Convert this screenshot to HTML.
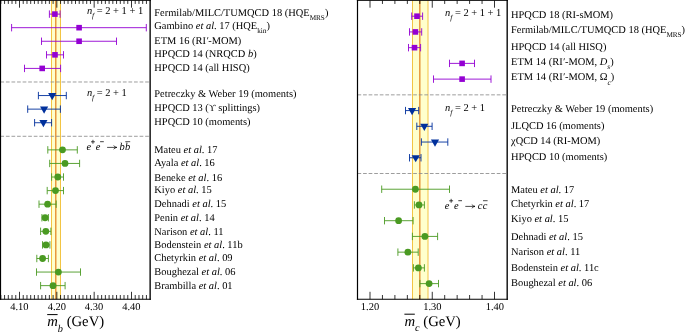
<!DOCTYPE html>
<html><head><meta charset="utf-8"><title>Quark masses</title>
<style>
html,body{margin:0;padding:0;background:#fff;}
svg{display:block;font-family:"Liberation Serif",serif;text-rendering:geometricPrecision;will-change:transform;}
text{fill:#000;}
</style></head><body>
<svg width="685" height="334" viewBox="0 0 685 334">
<rect width="685" height="334" fill="#fff"/>
<rect x="51.5" y="0.45" width="9.00" height="298.8" fill="#ffffcc"/>
<path d="M51.5 0.45V299.25M60.5 0.45V299.25" stroke="#f2c443" stroke-width="1"/>
<path d="M55.75 0.45V299.25" stroke="#e8983f" stroke-width="1.5"/>
<path d="M0.35 81.985H150.15" stroke="#8c8c8c" stroke-width="1" stroke-dasharray="3.7 1.87" stroke-opacity="0.85"/>
<path d="M0.35 136.293H150.15" stroke="#8c8c8c" stroke-width="1" stroke-dasharray="3.7 1.87" stroke-opacity="0.85"/>
<path d="M19.50 0.45V7.7M19.50 299.25V291.8M56.83 0.45V7.7M56.83 299.25V291.8M94.17 0.45V7.7M94.17 299.25V291.8M131.50 0.45V7.7M131.50 299.25V291.8M0.83 0.45V3.95M0.83 299.25V295.0M4.57 0.45V3.95M4.57 299.25V295.0M8.30 0.45V3.95M8.30 299.25V295.0M12.03 0.45V3.95M12.03 299.25V295.0M15.77 0.45V3.95M15.77 299.25V295.0M23.23 0.45V3.95M23.23 299.25V295.0M26.97 0.45V3.95M26.97 299.25V295.0M30.70 0.45V3.95M30.70 299.25V295.0M34.43 0.45V3.95M34.43 299.25V295.0M38.17 0.45V3.95M38.17 299.25V295.0M41.90 0.45V3.95M41.90 299.25V295.0M45.63 0.45V3.95M45.63 299.25V295.0M49.37 0.45V3.95M49.37 299.25V295.0M53.10 0.45V3.95M53.10 299.25V295.0M60.57 0.45V3.95M60.57 299.25V295.0M64.30 0.45V3.95M64.30 299.25V295.0M68.03 0.45V3.95M68.03 299.25V295.0M71.77 0.45V3.95M71.77 299.25V295.0M75.50 0.45V3.95M75.50 299.25V295.0M79.23 0.45V3.95M79.23 299.25V295.0M82.97 0.45V3.95M82.97 299.25V295.0M86.70 0.45V3.95M86.70 299.25V295.0M90.43 0.45V3.95M90.43 299.25V295.0M97.90 0.45V3.95M97.90 299.25V295.0M101.63 0.45V3.95M101.63 299.25V295.0M105.37 0.45V3.95M105.37 299.25V295.0M109.10 0.45V3.95M109.10 299.25V295.0M112.83 0.45V3.95M112.83 299.25V295.0M116.57 0.45V3.95M116.57 299.25V295.0M120.30 0.45V3.95M120.30 299.25V295.0M124.03 0.45V3.95M124.03 299.25V295.0M127.77 0.45V3.95M127.77 299.25V295.0M135.23 0.45V3.95M135.23 299.25V295.0M138.97 0.45V3.95M138.97 299.25V295.0M142.70 0.45V3.95M142.70 299.25V295.0M146.43 0.45V3.95M146.43 299.25V295.0" stroke="#000" stroke-width="0.8"/>
<path d="M49.40 14.10H60.10M49.40 10.40V17.80M60.10 10.40V17.80" stroke="#9400d3" stroke-width="1" stroke-opacity="0.9" fill="none"/>
<rect x="52.10" y="11.30" width="5.6" height="5.6" fill="#9400d3"/>
<path d="M11.60 27.68H146.30M11.60 23.98V31.38M146.30 23.98V31.38" stroke="#9400d3" stroke-width="1" stroke-opacity="0.9" fill="none"/>
<rect x="76.30" y="24.88" width="5.6" height="5.6" fill="#9400d3"/>
<path d="M41.50 41.25H116.50M41.50 37.55V44.95M116.50 37.55V44.95" stroke="#9400d3" stroke-width="1" stroke-opacity="0.9" fill="none"/>
<rect x="76.30" y="38.45" width="5.6" height="5.6" fill="#9400d3"/>
<path d="M46.50 54.83H63.50M46.50 51.13V58.53M63.50 51.13V58.53" stroke="#9400d3" stroke-width="1" stroke-opacity="0.9" fill="none"/>
<rect x="52.20" y="52.03" width="5.6" height="5.6" fill="#9400d3"/>
<path d="M24.50 68.41H60.60M24.50 64.71V72.11M60.60 64.71V72.11" stroke="#9400d3" stroke-width="1" stroke-opacity="0.9" fill="none"/>
<rect x="39.40" y="65.61" width="5.6" height="5.6" fill="#9400d3"/>
<path d="M38.40 95.56H66.30M38.40 91.86V99.26M66.30 91.86V99.26" stroke="#00309c" stroke-width="1" stroke-opacity="0.9" fill="none"/>
<path d="M48.10 92.96H56.30L52.20 100.16Z" fill="#00309c"/>
<path d="M27.70 109.14H60.40M27.70 105.44V112.84M60.40 105.44V112.84" stroke="#00309c" stroke-width="1" stroke-opacity="0.9" fill="none"/>
<path d="M40.00 106.54H48.20L44.10 113.74Z" fill="#00309c"/>
<path d="M34.60 122.72H51.60M34.60 119.02V126.42M51.60 119.02V126.42" stroke="#00309c" stroke-width="1" stroke-opacity="0.9" fill="none"/>
<path d="M39.30 120.12H47.50L43.40 127.32Z" fill="#00309c"/>
<path d="M47.80 149.87H77.30M47.80 146.17V153.57M77.30 146.17V153.57" stroke="#4a9a22" stroke-width="1" stroke-opacity="0.9" fill="none"/>
<circle cx="62.50" cy="149.87" r="3.4" fill="#4a9a22"/>
<path d="M49.70 163.45H79.60M49.70 159.75V167.15M79.60 159.75V167.15" stroke="#4a9a22" stroke-width="1" stroke-opacity="0.9" fill="none"/>
<circle cx="65.00" cy="163.45" r="3.4" fill="#4a9a22"/>
<path d="M51.60 177.02H63.50M51.60 173.32V180.72M63.50 173.32V180.72" stroke="#4a9a22" stroke-width="1" stroke-opacity="0.9" fill="none"/>
<circle cx="57.80" cy="177.02" r="3.4" fill="#4a9a22"/>
<path d="M47.20 190.60H63.50M47.20 186.90V194.30M63.50 186.90V194.30" stroke="#4a9a22" stroke-width="1" stroke-opacity="0.9" fill="none"/>
<circle cx="55.50" cy="190.60" r="3.4" fill="#4a9a22"/>
<path d="M39.00 204.18H56.20M39.00 200.48V207.88M56.20 200.48V207.88" stroke="#4a9a22" stroke-width="1" stroke-opacity="0.9" fill="none"/>
<circle cx="47.60" cy="204.18" r="3.4" fill="#4a9a22"/>
<path d="M41.90 217.75H48.40M41.90 214.06V221.45M48.40 214.06V221.45" stroke="#4a9a22" stroke-width="1" stroke-opacity="0.9" fill="none"/>
<circle cx="45.10" cy="217.75" r="3.4" fill="#4a9a22"/>
<path d="M40.60 231.33H50.90M40.60 227.63V235.03M50.90 227.63V235.03" stroke="#4a9a22" stroke-width="1" stroke-opacity="0.9" fill="none"/>
<circle cx="45.80" cy="231.33" r="3.4" fill="#4a9a22"/>
<path d="M42.50 244.91H49.90M42.50 241.21V248.61M49.90 241.21V248.61" stroke="#4a9a22" stroke-width="1" stroke-opacity="0.9" fill="none"/>
<circle cx="46.00" cy="244.91" r="3.4" fill="#4a9a22"/>
<path d="M36.80 258.49H48.40M36.80 254.79V262.19M48.40 254.79V262.19" stroke="#4a9a22" stroke-width="1" stroke-opacity="0.9" fill="none"/>
<circle cx="42.60" cy="258.49" r="3.4" fill="#4a9a22"/>
<path d="M36.50 272.06H80.50M36.50 268.36V275.76M80.50 268.36V275.76" stroke="#4a9a22" stroke-width="1" stroke-opacity="0.9" fill="none"/>
<circle cx="58.40" cy="272.06" r="3.4" fill="#4a9a22"/>
<path d="M40.60 285.64H65.10M40.60 281.94V289.34M65.10 281.94V289.34" stroke="#4a9a22" stroke-width="1" stroke-opacity="0.9" fill="none"/>
<circle cx="53.00" cy="285.64" r="3.4" fill="#4a9a22"/>
<path d="M0.4 0V299.8" stroke="#000" stroke-width="1.4"/><path d="M150.15 0V299.8" stroke="#1a1a1a" stroke-width="1.5"/><path d="M-0.29999999999999993 0.45H150.9" stroke="#000" stroke-width="0.9"/><path d="M-0.29999999999999993 299.25H150.9" stroke="#000" stroke-width="1.1"/>
<text x="154.3" y="15.70" font-size="10.45">Fermilab/MILC/TUMQCD 18 (HQE<tspan font-size="7.2" dy="4.0">MRS</tspan><tspan dy="-4.0" font-size="10.45">&#8203;</tspan>)</text>
<text x="154.3" y="29.30" font-size="10.45">Gambino <tspan font-style="italic">et al</tspan>. 17 (HQE<tspan font-size="7.2" dy="4.0">kin</tspan><tspan dy="-4.0" font-size="10.45">&#8203;</tspan>)</text>
<text x="154.3" y="43.60" font-size="10.45">ETM 16 (RI<tspan font-style="italic">&#8242;</tspan>-MOM)</text>
<text x="154.3" y="57.30" font-size="10.45">HPQCD 14 (NRQCD <tspan font-style="italic">b</tspan>)</text>
<text x="154.3" y="70.90" font-size="10.45">HPQCD 14 (all HISQ)</text>
<text x="154.3" y="97.35" font-size="10.45">Petreczky &amp; Weber 19 (moments)</text>
<text x="154.3" y="111.10" font-size="10.45">HPQCD 13 (<tspan font-size="9.5">&#978;</tspan> splittings)</text>
<text x="154.3" y="125.00" font-size="10.45">HPQCD 10 (moments)</text>
<text x="154.3" y="153.40" font-size="10.45">Mateu <tspan font-style="italic">et al</tspan>. 17</text>
<text x="154.3" y="166.10" font-size="10.45">Ayala <tspan font-style="italic">et al</tspan>. 16</text>
<text x="154.3" y="180.55" font-size="10.45">Beneke <tspan font-style="italic">et al</tspan>. 16</text>
<text x="154.3" y="193.00" font-size="10.45">Kiyo <tspan font-style="italic">et al</tspan>. 15</text>
<text x="154.3" y="207.40" font-size="10.45">Dehnadi <tspan font-style="italic">et al</tspan>. 15</text>
<text x="154.3" y="220.95" font-size="10.45">Penin <tspan font-style="italic">et al</tspan>. 14</text>
<text x="154.3" y="234.80" font-size="10.45">Narison <tspan font-style="italic">et al</tspan>. 11</text>
<text x="154.3" y="248.40" font-size="10.45">Bodenstein <tspan font-style="italic">et al</tspan>. 11b</text>
<text x="154.3" y="260.95" font-size="10.45">Chetyrkin <tspan font-style="italic">et al</tspan>. 09</text>
<text x="154.3" y="274.70" font-size="10.45">Boughezal <tspan font-style="italic">et al</tspan>. 06</text>
<text x="154.3" y="288.55" font-size="10.45">Brambilla <tspan font-style="italic">et al</tspan>. 01</text>
<text x="86.9" y="14.10" font-size="10.45"><tspan font-style="italic">n</tspan><tspan font-size="7.3" dy="4.1" font-style="italic">f</tspan><tspan dy="-4.1" font-size="10.45">&#8203;</tspan> = 2 + 1 + 1</text>
<text x="86.9" y="95.56" font-size="10.45"><tspan font-style="italic">n</tspan><tspan font-size="7.3" dy="4.1" font-style="italic">f</tspan><tspan dy="-4.1" font-size="10.45">&#8203;</tspan> = 2 + 1</text>
<text x="19.3" y="310.25" font-size="10.45" text-anchor="middle">4.10</text>
<text x="56.8" y="310.25" font-size="10.45" text-anchor="middle">4.20</text>
<text x="94.0" y="310.25" font-size="10.45" text-anchor="middle">4.30</text>
<text x="131.3" y="310.25" font-size="10.45" text-anchor="middle">4.40</text>
<text x="47.2" y="326.1" font-size="14.7"><tspan font-style="italic">m</tspan><tspan font-size="10.3" dy="5.5" font-style="italic">b</tspan><tspan dy="-5.5"> (GeV)</tspan></text><path d="M47.2 314.6H57.6" stroke="#000" stroke-width="1"/>
<text y="149.80" font-size="10.45" font-style="italic"><tspan x="86.5">e</tspan><tspan x="95.7">e</tspan><tspan x="119.6">b</tspan><tspan x="125.0">b</tspan></text><path d="M91.0 141.80h3.9M92.95 139.85v3.9M100.1 141.70h3.7" stroke="#000" stroke-width="0.75" fill="none"/><path d="M107.1 147.40H116.8M113.60 145.60Q115.00 147.10 116.80 147.40Q115.00 147.70 113.60 149.20" stroke="#000" stroke-width="0.7" fill="none"/><path d="M125.3 141.70H130.2" stroke="#000" stroke-width="0.7"/>
<rect x="412.5" y="0.45" width="15.50" height="298.8" fill="#ffffcc"/>
<path d="M412.5 0.45V299.25M428.0 0.45V299.25" stroke="#f2c443" stroke-width="1"/>
<path d="M419.8 0.45V299.25" stroke="#e8983f" stroke-width="1.5"/>
<path d="M357.5 94.85000000000001H507.2" stroke="#8c8c8c" stroke-width="1" stroke-dasharray="3.7 1.87" stroke-opacity="0.85"/>
<path d="M357.5 173.5H507.2" stroke="#8c8c8c" stroke-width="1" stroke-dasharray="3.7 1.87" stroke-opacity="0.85"/>
<path d="M370.00 0.45V7.7M370.00 299.25V291.8M432.25 0.45V7.7M432.25 299.25V291.8M494.50 0.45V7.7M494.50 299.25V291.8M382.45 0.45V3.95M382.45 299.25V295.0M394.90 0.45V3.95M394.90 299.25V295.0M407.35 0.45V3.95M407.35 299.25V295.0M419.80 0.45V3.95M419.80 299.25V295.0M444.70 0.45V3.95M444.70 299.25V295.0M457.15 0.45V3.95M457.15 299.25V295.0M469.60 0.45V3.95M469.60 299.25V295.0M482.05 0.45V3.95M482.05 299.25V295.0" stroke="#000" stroke-width="0.8"/>
<path d="M411.70 16.20H422.60M411.70 12.50V19.90M422.60 12.50V19.90" stroke="#9400d3" stroke-width="1" stroke-opacity="0.9" fill="none"/>
<rect x="414.20" y="13.40" width="5.6" height="5.6" fill="#9400d3"/>
<path d="M409.50 31.93H421.70M409.50 28.23V35.63M421.70 28.23V35.63" stroke="#9400d3" stroke-width="1" stroke-opacity="0.9" fill="none"/>
<rect x="412.60" y="29.13" width="5.6" height="5.6" fill="#9400d3"/>
<path d="M408.50 47.66H420.60M408.50 43.96V51.36M420.60 43.96V51.36" stroke="#9400d3" stroke-width="1" stroke-opacity="0.9" fill="none"/>
<rect x="411.70" y="44.86" width="5.6" height="5.6" fill="#9400d3"/>
<path d="M449.50 63.39H474.50M449.50 59.69V67.09M474.50 59.69V67.09" stroke="#9400d3" stroke-width="1" stroke-opacity="0.9" fill="none"/>
<rect x="459.30" y="60.59" width="5.6" height="5.6" fill="#9400d3"/>
<path d="M433.50 79.12H491.00M433.50 75.42V82.82M491.00 75.42V82.82" stroke="#9400d3" stroke-width="1" stroke-opacity="0.9" fill="none"/>
<rect x="459.30" y="76.32" width="5.6" height="5.6" fill="#9400d3"/>
<path d="M405.50 110.58H418.70M405.50 106.88V114.28M418.70 106.88V114.28" stroke="#00309c" stroke-width="1" stroke-opacity="0.9" fill="none"/>
<path d="M408.00 107.98H416.20L412.10 115.18Z" fill="#00309c"/>
<path d="M416.80 126.31H432.10M416.80 122.61V130.01M432.10 122.61V130.01" stroke="#00309c" stroke-width="1" stroke-opacity="0.9" fill="none"/>
<path d="M420.20 123.71H428.40L424.30 130.91Z" fill="#00309c"/>
<path d="M421.40 142.04H447.80M421.40 138.34V145.74M447.80 138.34V145.74" stroke="#00309c" stroke-width="1" stroke-opacity="0.9" fill="none"/>
<path d="M430.90 139.44H439.10L435.00 146.64Z" fill="#00309c"/>
<path d="M409.50 157.77H421.00M409.50 154.07V161.47M421.00 154.07V161.47" stroke="#00309c" stroke-width="1" stroke-opacity="0.9" fill="none"/>
<path d="M411.60 155.17H419.80L415.70 162.37Z" fill="#00309c"/>
<path d="M381.70 189.23H449.50M381.70 185.53V192.93M449.50 185.53V192.93" stroke="#4a9a22" stroke-width="1" stroke-opacity="0.9" fill="none"/>
<circle cx="415.40" cy="189.23" r="3.4" fill="#4a9a22"/>
<path d="M414.40 204.96H424.40M414.40 201.26V208.66M424.40 201.26V208.66" stroke="#4a9a22" stroke-width="1" stroke-opacity="0.9" fill="none"/>
<circle cx="419.00" cy="204.96" r="3.4" fill="#4a9a22"/>
<path d="M384.50 220.69H413.10M384.50 216.99V224.39M413.10 216.99V224.39" stroke="#4a9a22" stroke-width="1" stroke-opacity="0.9" fill="none"/>
<circle cx="398.60" cy="220.69" r="3.4" fill="#4a9a22"/>
<path d="M412.40 236.42H437.60M412.40 232.72V240.12M437.60 232.72V240.12" stroke="#4a9a22" stroke-width="1" stroke-opacity="0.9" fill="none"/>
<circle cx="424.90" cy="236.42" r="3.4" fill="#4a9a22"/>
<path d="M397.90 252.15H418.20M397.90 248.45V255.85M418.20 248.45V255.85" stroke="#4a9a22" stroke-width="1" stroke-opacity="0.9" fill="none"/>
<circle cx="407.90" cy="252.15" r="3.4" fill="#4a9a22"/>
<path d="M413.40 267.88H424.40M413.40 264.18V271.58M424.40 264.18V271.58" stroke="#4a9a22" stroke-width="1" stroke-opacity="0.9" fill="none"/>
<circle cx="418.40" cy="267.88" r="3.4" fill="#4a9a22"/>
<path d="M419.90 283.61H438.50M419.90 279.91V287.31M438.50 279.91V287.31" stroke="#4a9a22" stroke-width="1" stroke-opacity="0.9" fill="none"/>
<circle cx="429.10" cy="283.61" r="3.4" fill="#4a9a22"/>
<path d="M357.5 0V299.8" stroke="#000" stroke-width="1.2"/><path d="M507.2 0V299.8" stroke="#1a1a1a" stroke-width="1.5"/><path d="M356.9 0.45H507.95" stroke="#000" stroke-width="0.9"/><path d="M356.9 299.25H507.95" stroke="#000" stroke-width="1.1"/>
<text x="511.0" y="18.45" font-size="10.45">HPQCD 18 (RI-sMOM)</text>
<text x="511.0" y="33.20" font-size="10.45">Fermilab/MILC/TUMQCD 18 (HQE<tspan font-size="7.2" dy="4.0">MRS</tspan><tspan dy="-4.0" font-size="10.45">&#8203;</tspan>)</text>
<text x="511.0" y="49.65" font-size="10.45">HPQCD 14 (all HISQ)</text>
<text x="511.0" y="64.50" font-size="10.45">ETM 14 (RI<tspan font-style="italic">&#8242;</tspan>-MOM, <tspan font-style="italic">D</tspan><tspan font-size="7.4" dy="4.4" font-style="italic">s</tspan><tspan dy="-4.4" font-size="10.45">&#8203;</tspan>)</text>
<text x="511.0" y="80.30" font-size="10.45">ETM 14 (RI<tspan font-style="italic">&#8242;</tspan>-MOM, &#937;<tspan font-size="7.4" dy="4.4" font-style="italic">c</tspan><tspan dy="-4.4" font-size="10.45">&#8203;</tspan>)</text>
<text x="511.0" y="112.45" font-size="10.45">Petreczky &amp; Weber 19 (moments)</text>
<text x="511.0" y="128.55" font-size="10.45">JLQCD 16 (moments)</text>
<text x="511.0" y="144.20" font-size="10.45">&#967;QCD 14 (RI-MOM)</text>
<text x="511.0" y="160.20" font-size="10.45">HPQCD 10 (moments)</text>
<text x="511.0" y="192.70" font-size="10.45">Mateu <tspan font-style="italic">et al</tspan>. 17</text>
<text x="511.0" y="207.20" font-size="10.45">Chetyrkin <tspan font-style="italic">et al</tspan>. 17</text>
<text x="511.0" y="222.30" font-size="10.45">Kiyo <tspan font-style="italic">et al</tspan>. 15</text>
<text x="511.0" y="239.60" font-size="10.45">Dehnadi <tspan font-style="italic">et al</tspan>. 15</text>
<text x="511.0" y="254.70" font-size="10.45">Narison <tspan font-style="italic">et al</tspan>. 11</text>
<text x="511.0" y="271.20" font-size="10.45">Bodenstein <tspan font-style="italic">et al</tspan>. 11c</text>
<text x="511.0" y="285.70" font-size="10.45">Boughezal <tspan font-style="italic">et al</tspan>. 06</text>
<text x="445.1" y="16.20" font-size="10.45"><tspan font-style="italic">n</tspan><tspan font-size="7.3" dy="4.1" font-style="italic">f</tspan><tspan dy="-4.1" font-size="10.45">&#8203;</tspan> = 2 + 1 + 1</text>
<text x="445.1" y="110.58" font-size="10.45"><tspan font-style="italic">n</tspan><tspan font-size="7.3" dy="4.1" font-style="italic">f</tspan><tspan dy="-4.1" font-size="10.45">&#8203;</tspan> = 2 + 1</text>
<text x="370.0" y="310.25" font-size="10.45" text-anchor="middle">1.20</text>
<text x="432.3" y="310.25" font-size="10.45" text-anchor="middle">1.30</text>
<text x="494.8" y="310.25" font-size="10.45" text-anchor="middle">1.40</text>
<text x="404.4" y="325.8" font-size="14.7"><tspan font-style="italic">m</tspan><tspan font-size="10.3" dy="5.5" font-style="italic">c</tspan><tspan dy="-5.5"> (GeV)</tspan></text><path d="M404.4 314.2H414.8" stroke="#000" stroke-width="1"/>
<text y="208.80" font-size="10.45" font-style="italic"><tspan x="444.7">e</tspan><tspan x="453.9">e</tspan><tspan x="477.8">c</tspan><tspan x="482.7">c</tspan></text><path d="M449.2 200.80h3.9M451.15 198.85v3.9M458.3 200.70h3.7" stroke="#000" stroke-width="0.75" fill="none"/><path d="M465.3 206.40H475.0M471.80 204.60Q473.20 206.10 475.00 206.40Q473.20 206.70 471.80 208.20" stroke="#000" stroke-width="0.7" fill="none"/><path d="M483.0 200.70H487.6" stroke="#000" stroke-width="0.7"/>
</svg>
</body></html>
